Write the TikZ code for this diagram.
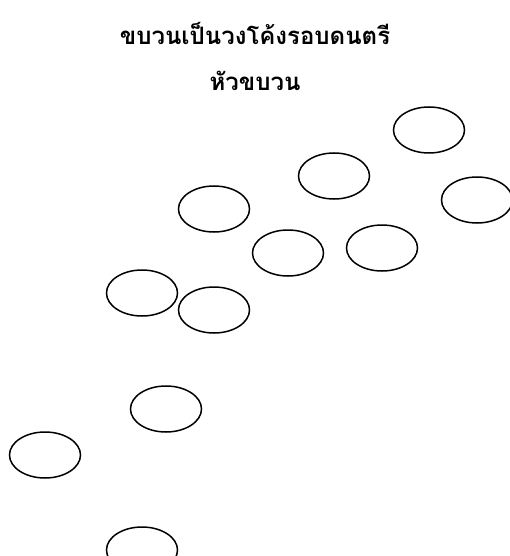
\documentclass[tikz,border=0pt]{standalone}
\usepackage{fontspec}
\newfontfamily\thaifont[Script=Thai]{Loma}
\usetikzlibrary{shapes.geometric}

\begin{document}
\begin{tikzpicture}[x=1pt,y=-1pt,
    seat/.style={ellipse,draw,line width=1.5pt,minimum width=71pt,minimum height=46pt,inner sep=0pt},
    caption/.style={font=\thaifont\bfseries\fontsize{24}{28}\selectfont,anchor=base,inner sep=0pt}]
    \useasboundingbox (0,0) rectangle (510,556);

    \node[caption] (title) at (255,45) {ขบวนเป็นวงโค้งรอบดนตรี};
    \node[caption] (head) at (255,91) {หัวขบวน};

    \node[seat] (s1) at (429,130) {};
    \node[seat] (s2) at (334,176) {};
    \node[seat] (s3) at (214,209) {};
    \node[seat] (s4) at (477,200) {};
    \node[seat] (s5) at (288,253) {};
    \node[seat] (s6) at (382,248) {};
    \node[seat] (s7) at (142,293) {};
    \node[seat] (s8) at (214,310) {};
    \node[seat] (s9) at (166,409) {};
    \node[seat] (s10) at (45,455) {};
    \node[seat] (s11) at (142,550) {};
\end{tikzpicture}
\end{document}
